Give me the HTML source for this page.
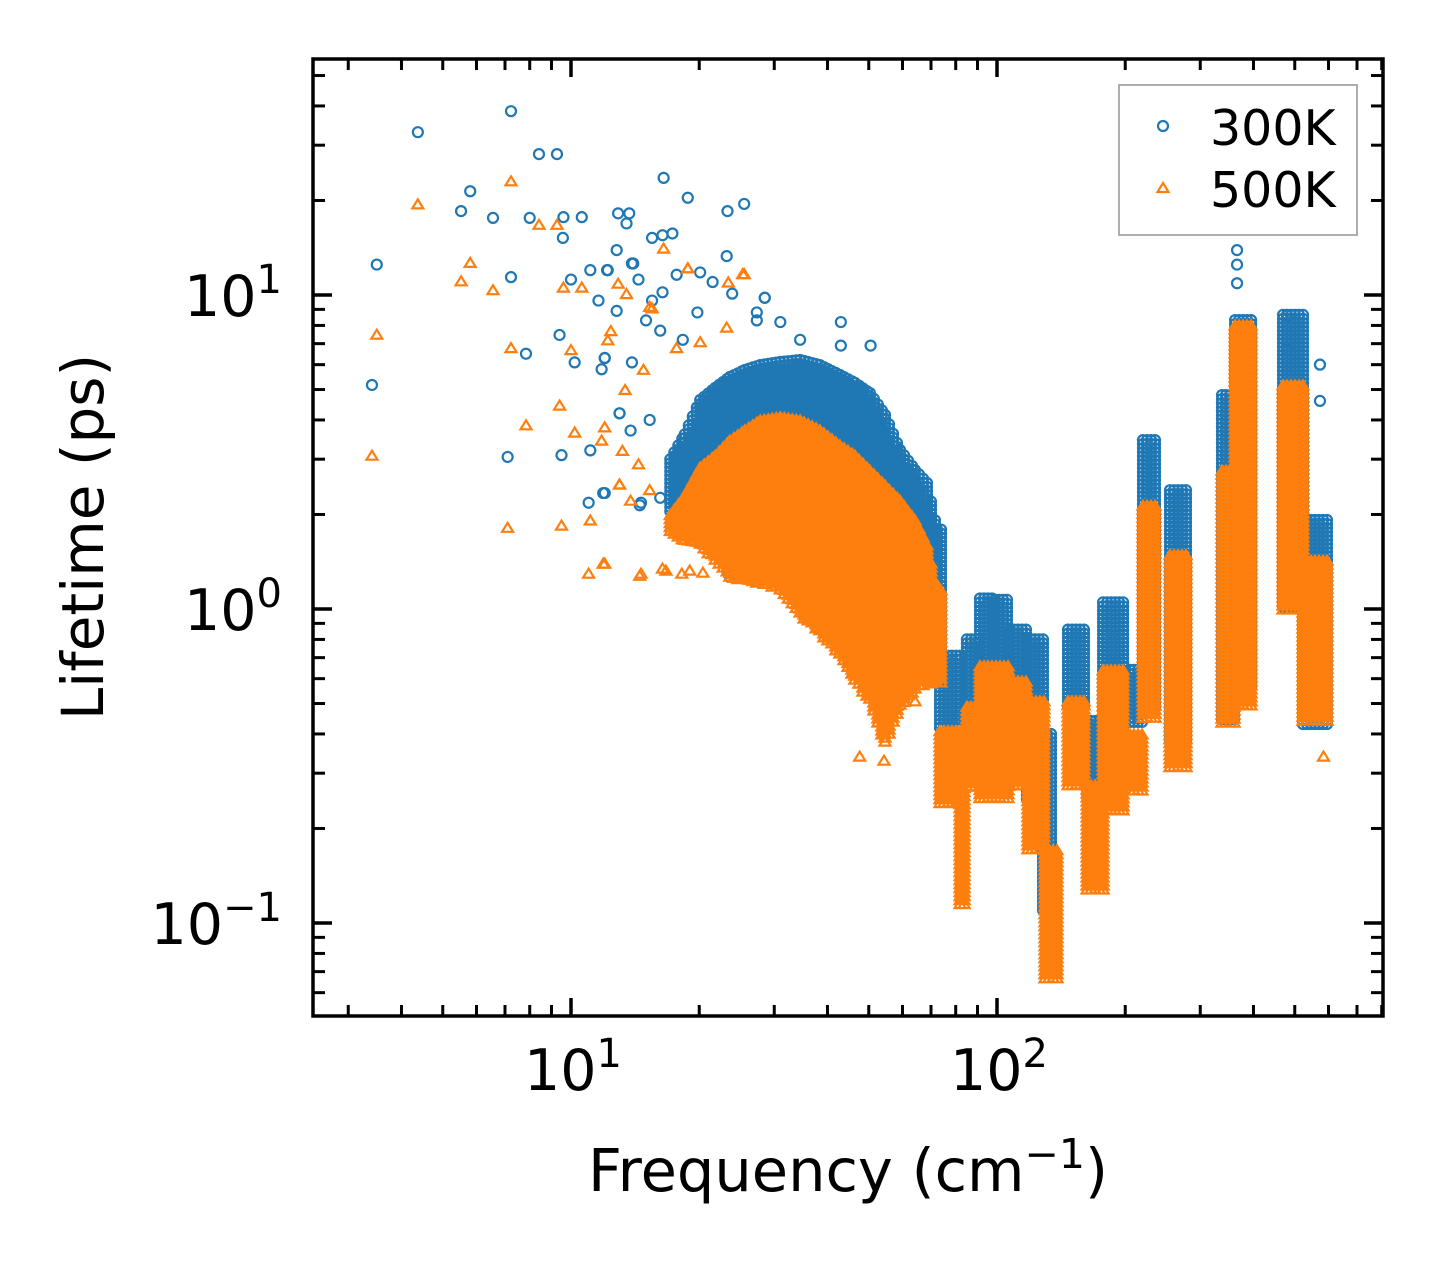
<!DOCTYPE html>
<html><head><meta charset="utf-8"><style>
html,body{margin:0;padding:0;background:#fff;}
svg{display:block;font-family:"DejaVu Sans","Liberation Sans",sans-serif;}
</style></head><body>
<svg id="chart" width="1442" height="1265" viewBox="0 0 1442 1265" xmlns="http://www.w3.org/2000/svg">
<rect width="1442" height="1265" fill="#fff"/>
<g id="marks300"></g>
<g id="marks500"></g>
<g id="axes"></g>
<rect x="313" y="59" width="1070" height="957" fill="none" stroke="#000" stroke-width="3.5"/>
<text x="848" y="1191" font-size="59" text-anchor="middle">Frequency (cm<tspan dy="-23" font-size="41">−1</tspan><tspan dy="23">)</tspan></text>
<text transform="translate(103,537) rotate(-90)" font-size="58" text-anchor="middle">Lifetime (ps)</text>
<g>
<rect x="1119" y="85" width="238" height="150" fill="#fff" stroke="#999" stroke-width="1.6"/>
<circle cx="1163" cy="126" r="5" fill="none" stroke="#1f77b4" stroke-width="2.2"/>
<text x="1210" y="145" font-size="49">300K</text>
<path d="M1157.5,192 L1168.5,192 L1163,183 Z" fill="none" stroke="#ff7f0e" stroke-width="2.2"/>
<text x="1210" y="207" font-size="49">500K</text>
</g>
</svg>
<script>
// ---- data (frequency cm^-1, lifetime ps) ----
// dense bands: [freqStart, freqEnd, lifetimeLow, lifetimeHigh]
const band300F0 = [17.1,18.5,20.1,21.8,23.6,25.6,27.8,31.0,34.5,38.4,42.8,46.4,50.3,54.6,59.2,64.2,68.5,72.3, 73.5,85.0,91.2,98.9,107.3,117.6,128.2,146.8,162.7,177.4,205.2,220.2,254.8,337.4,362.1,469.3,522.9];
const band300F1 = [18.5,20.1,21.8,23.6,25.6,27.8,31.0,34.5,38.4,42.8,46.4,50.3,54.6,59.2,64.2,68.5,72.3,74.7, 83.2,91.2,98.9,107.3,117.6,128.2,135.3,162.7,179.3,197.6,220.2,238.7,279.3,362.1,399.0,522.9,604.9];
const band300Lo = [2.0,1.8,1.66,1.54,1.26,1.38,1.38,1.24,1.07,0.92,0.80,0.69,0.55,0.46,0.55,0.64,0.64,0.64, 0.41,0.40,0.40,0.40,0.41,0.246,0.110,0.48,0.246,0.41,0.43,0.48,0.37,0.44,0.55,0.99,0.43];
const band300Hi = [3.0,3.6,4.63,5.06,5.48,5.77,5.98,6.12,6.21,5.98,5.56,5.25,4.87,4.15,3.21,2.77,2.52,1.79, 0.71,0.80,1.08,1.07,0.86,0.80,0.40,0.86,0.44,1.05,0.64,3.45,2.39,4.80,8.32,8.64,1.92];
const band500F0 = [17.1,18.5,20.1,21.8,23.6,25.6,27.8,31.0,34.5,38.4,42.8,46.4,50.3,54.6,59.2,64.2,68.5,72.3, 73.5,81.9,85.0,91.2,107.3,118.2,129.6,146.8,162.7,177.4,205.2,220.2,254.8,337.4,362.1,469.3,522.9];
const band500F1 = [18.5,20.1,21.8,23.6,25.6,27.8,31.0,34.5,38.4,42.8,46.4,50.3,54.6,59.2,64.2,68.5,72.3,74.7, 83.2,84.6,91.2,107.3,117.6,129.6,138.3,162.7,179.3,197.6,220.2,238.7,279.3,362.1,399.0,522.9,604.9];
const band500Lo = [1.75,1.65,1.60,1.43,1.26,1.24,1.21,1.15,0.96,0.84,0.71,0.59,0.51,0.37,0.49,0.55,0.58,0.58, 0.238,0.114,0.265,0.246,0.275,0.171,0.066,0.275,0.127,0.229,0.265,0.44,0.31,0.43,0.49,0.99,0.44];
const band500Hi = [2.0,2.3,2.83,3.09,3.45,3.72,4.00,4.09,4.00,3.72,3.33,3.09,2.77,2.48,2.22,1.92,1.60,1.15, 0.41,0.27,0.49,0.66,0.59,0.51,0.171,0.51,0.275,0.64,0.40,2.14,1.49,2.77,8.03,5.17,1.43];
// sparse points
const pts300F = [3.41,3.5,4.37,5.52,5.8,6.56,7.23,7.23,7.1,7.84,8.0,8.41,9.27,9.4,9.5,9.57,9.6,10,10.2,10.6,11.0,11.1,11.6,11.9,12.0,12.2,12.8,12.9,13.0,13.5,13.7,12.8,14.6,14.0,15.5,16.4,16.5,17.3,18.8,20.1,23.2,23.3,25.5,28.5,27.3,43,43,50.5,15.5,15,11.8,11.1,13.8,366,366,366,480,480,573,573,
  12.15,13.9,14.4,16.4,17.7,19.8,21.5,23.9,27.3,28.5,31.0,34.5,12.0,13.0,15.3,14.5,16.2,12.0,13.9,16.2,18.3];
const pts300L = [5.17,12.5,33.0,18.5,21.4,17.6,38.5,11.4,3.05,6.5,17.6,28.1,28.1,7.46,3.09,15.2,17.7,11.2,6.1,17.7,2.18,12.0,9.6,2.34,6.3,12.0,13.9,18.2,4.2,16.9,18.2,8.9,2.18,12.6,15.2,15.5,23.6,15.7,20.4,11.8,13.3,18.5,19.5,9.8,8.3,8.2,6.9,6.9,9.6,8.3,5.8,3.2,3.7,13.9,12.5,10.9,6.7,8.6,6.0,4.6,
  12.0,12.6,11.2,10.2,11.6,8.8,11.0,10.1,8.8,9.8,8.2,7.2,6.3,4.2,4.0,2.14,2.26,2.34,6.1,7.7,7.2];
const pts500F = [3.41,3.5,4.37,5.52,5.8,6.56,7.23,7.23,7.1,7.84,8.41,9.27,9.4,9.5,9.6,10,10.2,10.6,11.0,11.9,12.2,13.0,13.5,14.6,15.5,16.5,18.8,20.1,25.5,11.8,11.1,13.8,16.7,19.0,12.4,47.6,54.3,64.2,584,
  12.9,15.3,18.8,25.3,23.4,17.7,14.8,13.4,12.0,13.2,14.4,13.0,15.3,12.0,14.5,16.4,18.2,20.4,23.2];
const pts500L = [3.09,7.5,19.5,11.1,12.7,10.4,23.1,6.8,1.82,3.86,16.8,16.8,4.46,1.85,10.6,6.7,3.66,10.6,1.3,1.4,7.2,2.5,10.1,1.3,9.1,14.1,12.2,7.1,11.7,3.45,1.92,2.22,1.33,1.33,7.7,0.34,0.33,0.51,0.34,
  10.9,9.2,12.2,11.7,11.0,6.8,5.8,5.0,3.8,3.2,2.9,2.5,2.4,1.40,1.28,1.35,1.30,1.31,7.9];
// ticks
const xMajor = [10,100];
const xMajorLabels = ["1","2"];
const yMajor = [0.1,1,10];
const yMajorLabels = ["−1","0","1"];

// ---- axes ----
const L=313,R=1383,T=59,B=1016;
function xs(f){return 571+(Math.log10(f)-1)*426;}
function ys(v){return 609-Math.log10(v)*314;}
const NS="http://www.w3.org/2000/svg";
function mk(tag,attrs,parent){const e=document.createElementNS(NS,tag);for(const k in attrs)e.setAttribute(k,attrs[k]);parent.appendChild(e);return e;}

const g3=document.getElementById('marks300'), g5=document.getElementById('marks500');
function circ(x,y){return `M${(x-5).toFixed(1)},${y.toFixed(1)}a5,5 0 1,0 10,0a5,5 0 1,0 -10,0`;}
function tri(x,y){return `M${(x-5.5).toFixed(1)},${(y+4.5).toFixed(1)}L${(x+5.5).toFixed(1)},${(y+4.5).toFixed(1)}L${x.toFixed(1)},${(y-4.5).toFixed(1)}Z`;}
function bandPath(f0,f1,lo,hi,fn){
  let d='';
  for(let i=0;i<f0.length;i++){
    const x0=xs(f0[i]),x1=xs(f1[i]);
    const contig=(f1[i]<75 && i+1<f0.length && Math.abs(f0[i+1]-f1[i])<0.01);
    const yh0=ys(hi[i]),yl0=ys(lo[i]);
    const yh1=contig?ys(hi[i+1]):yh0, yl1=contig?ys(lo[i+1]):yl0;
    for(let x=x0;x<=x1+0.1;x+=4){
      const t=(x1>x0)?(x-x0)/(x1-x0):0;
      const ya=yh0+(yh1-yh0)*t, yb=yl0+(yl1-yl0)*t;
      for(let y=ya;y<=yb+0.1;y+=4){d+=fn(x,y);}
    }
  }
  return d;
}
const p3=mk('path',{d:bandPath(band300F0,band300F1,band300Lo,band300Hi,circ),fill:'none',stroke:'#1f77b4','stroke-width':2.2},g3);


for(let i=0;i<pts300F.length;i++){
  const c=mk('circle',{cx:xs(pts300F[i]),cy:ys(pts300L[i]),r:5,fill:'none',stroke:'#1f77b4','stroke-width':2.2},g3);
  
  
}
const p5=mk('path',{d:bandPath(band500F0,band500F1,band500Lo,band500Hi,tri),fill:'none',stroke:'#ff7f0e','stroke-width':2.2},g5);


for(let i=0;i<pts500F.length;i++){
  const t=mk('path',{d:tri(xs(pts500F[i]),ys(pts500L[i])),fill:'none',stroke:'#ff7f0e','stroke-width':2.2},g5);
  
  
}

const ax=document.getElementById('axes');
function tick(x1,y1,x2,y2,w){const l=mk('line',{x1,y1,x2,y2,stroke:'#000','stroke-width':w},ax);}
for(let e=0;e<=2;e++){for(let m=1;m<10;m++){const f=m*Math.pow(10,e);const x=xs(f);if(x<L||x>R)continue;
  const major=(m===1);const len=major?18:11;const w=major?3.5:3;
  tick(x,B,x,B-len,w);tick(x,T,x,T+len,w);}}
for(let e=-2;e<=1;e++){for(let m=1;m<10;m++){const v=m*Math.pow(10,e);const y=ys(v);if(y<T||y>B)continue;
  const major=(m===1);const len=major?19:12;const w=major?3.5:3;
  tick(L,y,L+len,y,w);tick(R,y,R-len,y,w);}}
xMajor.forEach((f,i)=>{
  const t=mk('text',{x:xs(f)+2,y:1090,'font-size':57,'text-anchor':'middle'},ax);
  
  
  t.textContent='10';
  const s=mk('tspan',{dy:-23,'font-size':40},t);s.textContent=xMajorLabels[i];
});
yMajor.forEach((v,i)=>{
  const t=mk('text',{x:282,y:ys(v)+21,'font-size':57,'text-anchor':'end'},ax);
  
  
  t.textContent='10';
  const s=mk('tspan',{dy:-23,'font-size':40},t);s.textContent=yMajorLabels[i];
});
</script>
</body></html>
